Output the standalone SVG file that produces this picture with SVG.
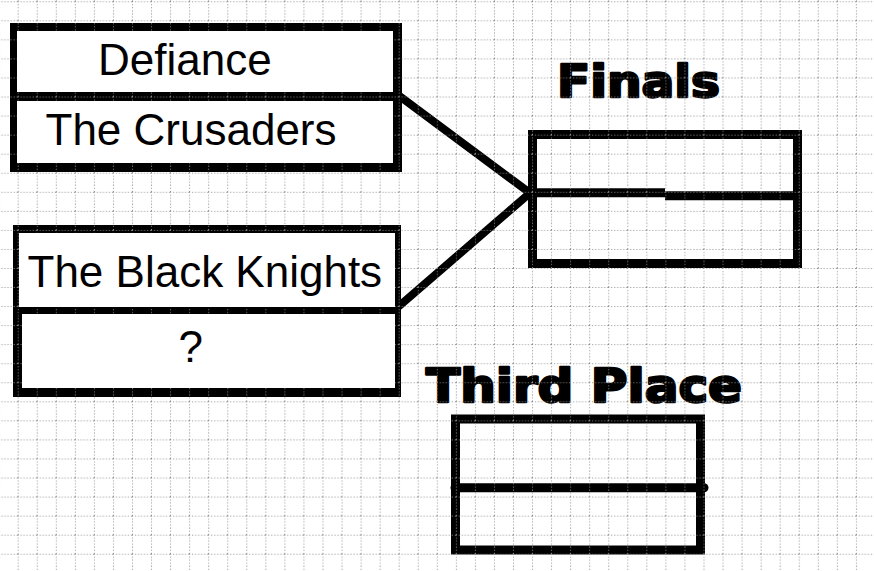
<svg xmlns="http://www.w3.org/2000/svg" width="874" height="571" viewBox="0 0 874 571">
  <style>
    .frame { fill: #000; }
    .cell { fill: #fff; }
    .box { fill: none; stroke: #000; stroke-width: 9; }
    .bar { stroke: #000; stroke-width: 9; fill: none; }
    .label { font-family: "Liberation Sans", Arial, sans-serif; font-size: 44px; fill: #000; }
    .title { font-family: "DejaVu Sans", "Liberation Sans", sans-serif; font-weight: bold; fill: #000; stroke: #000; stroke-width: 2.4; stroke-linejoin: round; }
    .conn { stroke: #000; stroke-width: 8; fill: none; stroke-linecap: round; }
    .gridline { stroke: #8e8e8e; stroke-width: 1; stroke-dasharray: 1 2; }
  </style>
  <defs>
    <pattern id="grid" patternUnits="userSpaceOnUse" x="17.7" y="1.3" width="19.05" height="19.05">
      <line class="gridline" x1="0.5" y1="0" x2="0.5" y2="19.05"/>
      <line class="gridline" x1="0" y1="0.5" x2="19.05" y2="0.5"/>
    </pattern>
    <mask id="gridmask" maskUnits="userSpaceOnUse" x="0" y="0" width="874" height="571">
      <rect x="0" y="0" width="874" height="571" fill="#fff"/>
      <rect x="17" y="31" width="376" height="61" fill="#000"/>
      <rect x="17" y="101" width="376" height="62" fill="#000"/>
      <rect x="19" y="233" width="376" height="74" fill="#000"/>
      <rect x="22" y="314" width="373" height="74" fill="#000"/>
    </mask>
  </defs>
  <rect x="0" y="0" width="874" height="571" fill="#fff"/>

  <g id="connectors">
    <line class="conn" x1="398" y1="95" x2="530" y2="193"/>
    <line class="conn" x1="398" y1="307" x2="530" y2="193"/>
  </g>

  <g id="semi1">
    <rect class="frame" x="10" y="23" width="392" height="149"/>
    <rect class="cell" x="17" y="31" width="376" height="61"/>
    <rect class="cell" x="17" y="101" width="376" height="62"/>
    <text class="label" x="98" y="75">Defiance</text>
    <text class="label" x="45.5" y="145">The Crusaders</text>
  </g>

  <g id="semi2">
    <rect class="frame" x="13" y="225" width="388" height="172"/>
    <rect class="cell" x="19" y="233" width="376" height="74"/>
    <rect class="cell" x="22" y="314" width="373" height="74"/>
    <text class="label" x="27.5" y="287">The Black Knights</text>
    <text class="label" x="178.5" y="362">?</text>
  </g>

  <g id="finals">
    <text class="title" x="557" y="97" font-size="44" textLength="163" lengthAdjust="spacingAndGlyphs">Finals</text>
    <rect class="box" x="532.5" y="134.5" width="265" height="129"/>
    <line class="bar" x1="532" y1="192.8" x2="665" y2="192.8"/>
    <line class="bar" x1="665" y1="195.8" x2="797" y2="195.8"/>
  </g>

  <g id="third-place">
    <text class="title" x="426" y="402" font-size="46" textLength="316" lengthAdjust="spacingAndGlyphs">Third Place</text>
    <rect class="box" x="455.5" y="419" width="245" height="131"/>
    <line class="bar" x1="455" y1="487.8" x2="704" y2="487.8" stroke-linecap="round"/>
  </g>

  <rect id="grid-overlay" x="0" y="0" width="874" height="571" fill="url(#grid)" mask="url(#gridmask)"/>
</svg>
